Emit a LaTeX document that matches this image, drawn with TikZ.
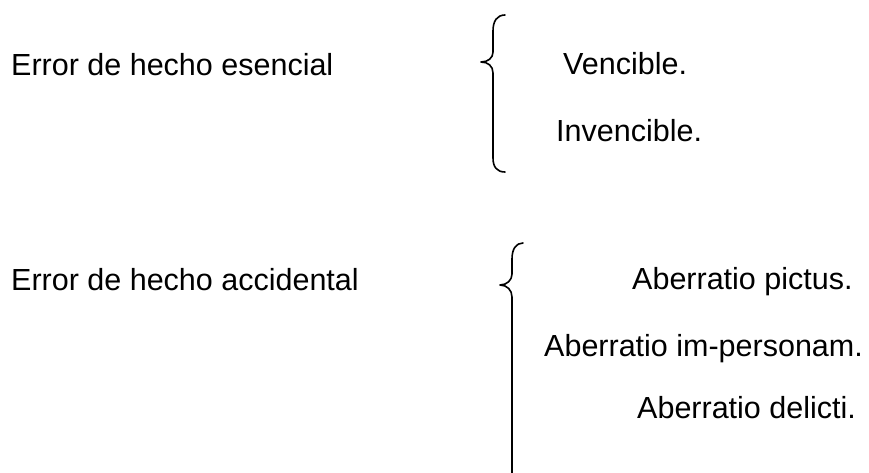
\documentclass[tikz,border=0pt]{standalone}
\usepackage{fontspec}
\setmainfont{Liberation Sans}
\begin{document}
\begin{tikzpicture}[x=1pt,y=-1pt,
  lbl/.style={anchor=base west,inner sep=0pt,font=\fontsize{30.5}{36}\selectfont},
  brace/.style={line width=1.6pt,line cap=round,line join=round}]
\useasboundingbox[fill=white] (0,0) rectangle (869,472);
\node[lbl] (esencial) at (11,75.5) {Error de hecho esencial};
\node[lbl] (vencible) at (563,74.5) {Vencible.};
\node[lbl] (invencible) at (556,141.5) {Invencible.};
\node[lbl] (accidental) at (11,290.5) {Error de hecho accidental};
\node[lbl] (pictus) at (632,289.5) {Aberratio pictus.};
\node[lbl] (impersonam) at (544,356) {Aberratio im-personam.};
\node[lbl] (delicti) at (637,418) {Aberratio delicti.};
\draw[brace] (505,15) .. controls (497,15) and (493,21) .. (493,31)
  -- (493,52) .. controls (493,58) and (488,62) .. (481,62)
  .. controls (488,62) and (493,66) .. (493,73)
  -- (493,158) .. controls (493,167) and (497,172) .. (505,172);
\draw[brace] (523,243) .. controls (516,243) and (512,249) .. (512,259)
  -- (512,274) .. controls (512,280) and (507,285) .. (500,285)
  .. controls (507,285) and (512,290) .. (512,297)
  -- (512,473);
\end{tikzpicture}
\end{document}
